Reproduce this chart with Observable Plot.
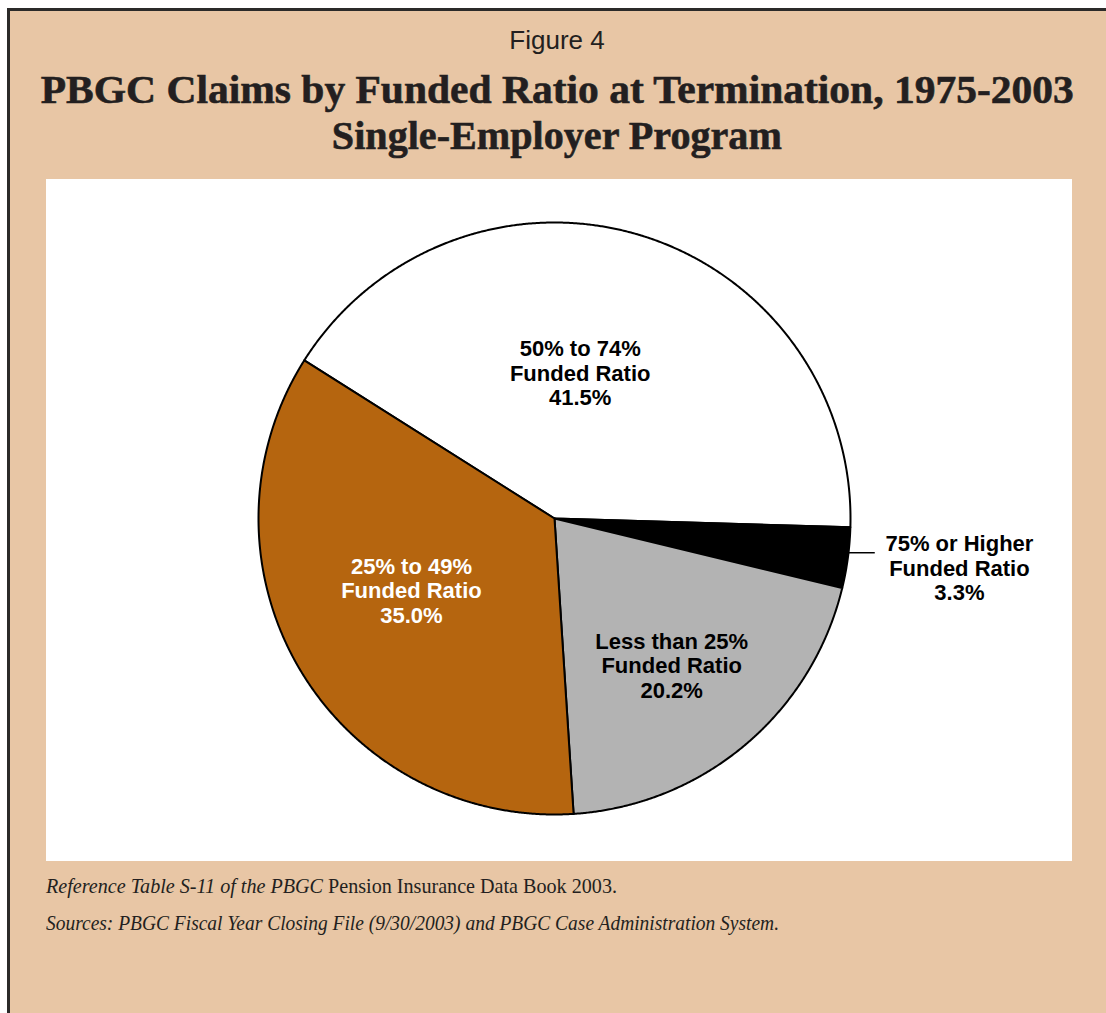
<!DOCTYPE html>
<html>
<head>
<meta charset="utf-8">
<script src="https://cdn.jsdelivr.net/npm/d3@7"></script>
<script src="https://cdn.jsdelivr.net/npm/@observablehq/plot@0.6"></script>
<style>
html, body { margin: 0; padding: 0; background: #ffffff; overflow: hidden; width: 1106px; height: 1013px; }
#frame { position: absolute; left: 7px; top: 8px; width: 1200px; height: 1100px; background: #e8c6a5;
  border-left: 3px solid #2b2a29; border-top: 3px solid #2b2a29; }
.abs { position: absolute; left: 4px; width: 1106px; text-align: center; white-space: nowrap; color: #231f20; }
#fig { top: 27px; font: 26px/26px "Liberation Sans", Arial, sans-serif; }
.title { font: bold 41px/46px "Liberation Serif", "Times New Roman", serif; -webkit-text-stroke: 0.6px #231f20; }
#t1 { top: 65.5px; }
#t2 { top: 111.8px; }
.scaled { display: inline-block; transform-origin: 50% 50%; }
.note { position: absolute; left: 46px; font: 22px/22px "Liberation Serif", "Times New Roman", serif; color: #231f20;
  white-space: nowrap; transform-origin: 0 50%; }
#n1 { top: 875px; }
#n2 { top: 912px; }
#chart { position: absolute; left: 46px; top: 179px; width: 1026px; height: 682px; background: #ffffff; }
</style>
</head>
<body>
<div id="frame"></div>
<div class="abs" id="fig">Figure 4</div>
<div class="abs title" id="t1"><span class="scaled" id="s1">PBGC Claims by Funded Ratio at Termination, 1975-2003</span></div>
<div class="abs title" id="t2"><span class="scaled" id="s2">Single-Employer Program</span></div>
<div id="chart"></div>
<div class="note" id="n1"><i>Reference Table S-11 of the PBGC</i> Pension Insurance Data Book 2003.</div>
<div class="note" id="n2"><i>Sources: PBGC Fiscal Year Closing File (9/30/2003) and PBGC Case Administration System.</i></div>
<script>
// ---- data ----
const categories = ["50% to 74%", "75% or Higher", "Less than 25%", "25% to 49%"];
const shares = [41.5, 3.3, 20.2, 35.0];
const shareLabels = ["41.5%", "3.3%", "20.2%", "35.0%"];
const subLabel = "Funded Ratio";

// ---- layout helpers ----
const W = 1026, H = 682, R = 296, CX = 508, CY = 339;
const startDeg = -57.7;
const rad = d => d * Math.PI / 180;

const rows = categories.map((c, i) => ({category: c, share: shares[i], label: `${c}\n${subLabel}\n${shareLabels[i]}`}));
const arcs = d3.pie().sort(null).value(d => d.share)
  .startAngle(rad(startDeg)).endAngle(rad(startDeg + 360))(rows);

// sector outlines derived from pie angles
const outline = [];
for (const a of arcs) {
  outline.push({category: a.data.category, x: 0, y: 0});
  const n = Math.max(4, Math.ceil((a.endAngle - a.startAngle) / rad(0.25)));
  for (let k = 0; k <= n; k++) {
    const t = a.startAngle + (a.endAngle - a.startAngle) * k / n;
    outline.push({category: a.data.category, x: Math.sin(t), y: Math.cos(t)});
  }
}

// label placement (angle nudge in degrees, radius as fraction of R)
const place = {
  "50% to 74%": {dAng: -7, r: 0.50},
  "75% or Higher": {dAng: -0.7, r: 1.378},
  "Less than 25%": {dAng: 1.5, r: 0.635},
  "25% to 49%": {dAng: 4, r: 0.541}
};
const labels = arcs.map(a => {
  const p = place[a.data.category];
  const t = (a.startAngle + a.endAngle) / 2 + rad(p.dAng);
  return {category: a.data.category, label: a.data.label, x: p.r * Math.sin(t), y: p.r * Math.cos(t)};
});
const outside = arcs.filter(a => a.data.category === "75% or Higher").map(a => {
  const t = (a.startAngle + a.endAngle) / 2 - rad(1);
  return {x1: Math.sin(t), y1: Math.cos(t), x2: 1.082, y2: Math.cos(t)};
});

const textStyle = {x: "x", y: "y", text: "label", fontSize: 22, fontWeight: "bold", lineHeight: 1.12,
  fontFamily: "'Liberation Sans', Arial, sans-serif"};

const chart = Plot.plot({
  width: W, height: H,
  margin: 0,
  x: {domain: [-CX / R, (W - CX) / R], axis: null},
  y: {domain: [-(H - CY) / R, CY / R], axis: null},
  color: {domain: categories, range: ["#ffffff", "#000000", "#b3b3b3", "#b5650f"]},
  style: {background: "#ffffff", fontFamily: "'Liberation Sans', Arial, sans-serif"},
  marks: [
    Plot.line(outline, {x: "x", y: "y", z: "category", fill: "category", stroke: "#000000",
      strokeWidth: 2, curve: "linear-closed"}),
    Plot.link(outside, {x1: "x1", y1: "y1", x2: "x2", y2: "y2", stroke: "#000000", strokeWidth: 1.5}),
    Plot.text(labels.filter(d => d.category !== "25% to 49%"), {...textStyle, fill: "#000000"}),
    Plot.text(labels.filter(d => d.category === "25% to 49%"), {...textStyle, fill: "#ffffff"})
  ]
});
document.getElementById("chart").appendChild(chart);

// fit text widths to the reference
function fit(el, target) {
  const w = el.getBoundingClientRect().width;
  el.style.transform = `scaleX(${target / w})`;
}
fit(document.getElementById("s1"), 1033);
fit(document.getElementById("s2"), 450);
fit(document.getElementById("n1"), 571);
fit(document.getElementById("n2"), 733);
</script>
</body>
</html>
